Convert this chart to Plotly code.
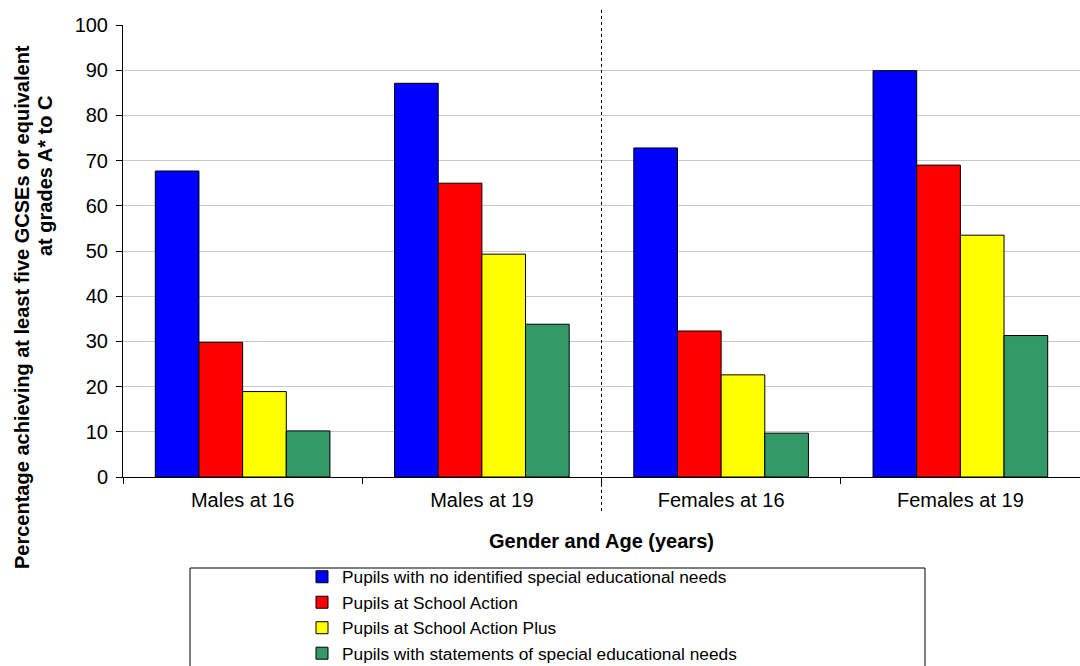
import plotly.graph_objects as go

categories = ["Males at 16", "Males at 19", "Females at 16", "Females at 19"]
series_names = [
    "Pupils with no identified special educational needs",
    "Pupils at School Action",
    "Pupils at School Action Plus",
    "Pupils with statements of special educational needs",
]
no_sen = [67.7, 87.1, 72.8, 89.9]
school_action = [29.8, 65.0, 32.3, 69.0]
school_action_plus = [18.9, 49.3, 22.6, 53.5]
statements = [10.2, 33.8, 9.7, 31.3]
y_ticks = [0, 10, 20, 30, 40, 50, 60, 70, 80, 90, 100]
y_title_lines = ["Percentage achieving at least five GCSEs or equivalent", "at grades A* to C"]

colors = ["#0000FF", "#FF0000", "#FFFF00", "#339966"]
FONT = "Liberation Sans, Arial, sans-serif"

fig = go.Figure()
for name, vals, col in zip(series_names, [no_sen, school_action, school_action_plus, statements], colors):
    fig.add_trace(go.Bar(
        x=categories, y=vals, name=name,
        marker=dict(color=col, line=dict(color="#000000", width=1)),
    ))

fig.update_layout(
    width=1080, height=666,
    margin=dict(l=123, r=0, t=25, b=189, autoexpand=False),
    paper_bgcolor="white", plot_bgcolor="white",
    barmode="group", bargap=0.27, bargroupgap=0,
    font=dict(family=FONT, size=19, color="black"),
    showlegend=True,
    legend=dict(
        x=(302 - 123) / 957, y=(477 - 559) / 452, xanchor="left", yanchor="top",
        bgcolor="rgba(0,0,0,0)", borderwidth=0,
        font=dict(family=FONT, size=17.3, color="black"),
        traceorder="normal",
    ),
    xaxis=dict(
        type="category",
        showline=True, linecolor="black", linewidth=1,
        ticks="outside", tickson="boundaries", ticklen=6, tickcolor="black",
        showgrid=False, tickangle=0, ticklabelstandoff=5,
        title=dict(text="<b>Gender and Age (years)</b>", font=dict(size=20), standoff=23),
        tickfont=dict(size=20),
    ),
    yaxis=dict(
        range=[0, 100], tickvals=y_ticks,
        showline=True, linecolor="black", linewidth=1,
        ticks="outside", ticklen=6, tickcolor="black", ticklabelstandoff=4,
        showgrid=True, gridcolor="#c8c8c8", gridwidth=1,
        zeroline=False,
        tickfont=dict(size=20),
    ),
)

# y-axis title (two lines, placed as in the original)
fig.add_annotation(text=f"<b>{y_title_lines[0]}</b>", xref="paper", yref="paper",
                   x=0, y=(477 - 307) / 452, xshift=-101, textangle=-90,
                   xanchor="center", yanchor="middle", showarrow=False,
                   font=dict(size=20, family=FONT, color="black"))
fig.add_annotation(text=f"<b>{y_title_lines[1]}</b>", xref="paper", yref="paper",
                   x=0, y=(477 - 176) / 452, xshift=-78, textangle=-90,
                   xanchor="center", yanchor="middle", showarrow=False,
                   font=dict(size=20, family=FONT, color="black"))

# dotted divider between males and females
fig.add_shape(type="line", xref="x", yref="paper", x0=1.5, x1=1.5, y0=-0.075, y1=1.04,
              line=dict(color="black", width=1, dash="dot"))
# legend frame
fig.add_shape(type="rect", xref="paper", yref="paper",
              x0=(190 - 123) / 957, x1=(925 - 123) / 957,
              y0=(477 - 700) / 452, y1=(477 - 568) / 452,
              line=dict(color="black", width=1), fillcolor="rgba(0,0,0,0)")

fig.write_html("out.html")
